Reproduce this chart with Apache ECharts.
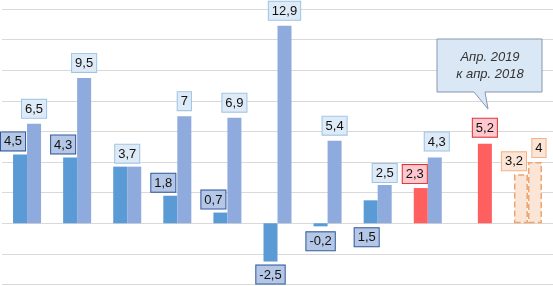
<!DOCTYPE html>
<html>
<head>
<meta charset="utf-8">
<script src="https://cdn.jsdelivr.net/npm/echarts@6/dist/echarts.min.js"></script>
<style>
html,body{margin:0;padding:0;background:#fff;}
#chart{width:553px;height:286px;}
</style>
</head>
<body>
<div id="chart"></div>
<script>
// ---- data ----
const categories = ['1', '2', '3', '4', '5', '6', '7', '8', '9', '10', '11'];
const seriesA = [4.5, 4.3, 3.7, 1.8, 0.7, -2.5, -0.2, 1.5, 2.3, null, 3.2];
const seriesB = [6.5, 9.5, 3.7, 7, 6.9, 12.9, 5.4, 2.5, 4.3, 5.2, 4];
const calloutLines = ['Апр. 2019', 'к апр. 2018'];
const yMin = -4, yMax = 14, yStep = 2;

// ---- styles ----
const FONT = 'Liberation Sans';
const C_DARK = '#5B9BD5', C_LIGHT = '#8FAADC', C_RED = '#FF5F5F';
const C_FC_FILL = '#FBE5D6', C_FC_BORDER = '#F0A46E';
const fmt = v => String(v).replace('.', ',');
function box(bg, border) {
  return {show: true, formatter: p => fmt(p.value), fontFamily: FONT, fontSize: 13, color: '#111',
    backgroundColor: bg, borderColor: border, borderWidth: 1, padding: [2, 3, 1, 3], lineHeight: 15};
}
const darkLbl = () => box('#B4C7E7', '#2F5597');
const lightLbl = () => box('#DEEBF7', '#9DC3E6');
const redLbl = () => box('#FFC7CE', '#E03030');
const fcLbl = () => box('#FBE5D6', '#F4B183');

const dataA = seriesA.map((v, i) => {
  if (v === null) return null;
  let item = {value: v};
  let lbl = Object.assign(darkLbl(), {position: v < 0 ? 'bottom' : 'top', distance: 4, offset: [-7, 0]});
  if (v < 0) lbl.offset = [0, 0];
  if (i === 6) lbl.distance = 6;
  if (i === 2) lbl.show = false;
  if (i === 7) Object.assign(lbl, {position: 'bottom', distance: 5, offset: [-4, 0]});
  if (i === 8) { item.itemStyle = {color: C_RED}; Object.assign(lbl, redLbl(), {offset: [-6, 0], distance: 5}); }
  if (i === 10) {
    item.itemStyle = {color: C_FC_FILL, borderColor: C_FC_BORDER, borderType: 'dashed', borderWidth: 1.5};
    Object.assign(lbl, fcLbl(), {offset: [-7, 0], distance: 4});
  }
  item.label = lbl;
  return item;
});
const dataB = seriesB.map((v, i) => {
  let item = {value: v};
  let lbl = Object.assign(lightLbl(), {position: 'top', distance: 6, offset: [0, 0]});
  if (i === 2) Object.assign(lbl, {offset: [-7, 0], distance: 4});
  if (i === 7) lbl.distance = 3;
  if (i === 8) Object.assign(lbl, {offset: [2, 0], distance: 7});
  if (i === 9) { item.itemStyle = {color: C_RED}; Object.assign(lbl, redLbl(), {distance: 7}); }
  if (i === 10) {
    item.itemStyle = {color: C_FC_FILL, borderColor: C_FC_BORDER, borderType: 'dashed', borderWidth: 1.5};
    Object.assign(lbl, fcLbl(), {offset: [4, 0], distance: 5});
  }
  item.label = lbl;
  return item;
});

const chart = echarts.init(document.getElementById('chart'), null, {renderer: 'canvas'});
chart.setOption({
  animation: false,
  grid: {left: 2, right: -6, top: 9, bottom: 1.5, containLabel: false},
  xAxis: {type: 'category', data: categories, axisLine: {show: false}, axisTick: {show: false},
    axisLabel: {show: false}, splitLine: {show: false}},
  yAxis: {type: 'value', min: yMin, max: yMax, interval: yStep, axisLabel: {show: false},
    axisLine: {show: false}, axisTick: {show: false},
    splitLine: {show: true, lineStyle: {color: '#D9D9D9', width: 1}}},
  series: [
    {type: 'bar', data: dataA, barWidth: 14, barGap: '0%', itemStyle: {color: C_DARK}},
    {type: 'bar', data: dataB, barWidth: 14, barGap: '0%', itemStyle: {color: C_LIGHT}}
  ],
  graphic: [
    {type: 'polygon', z: 100,
      shape: {points: [[437, 39], [542, 39], [542, 92], [485, 92], [488, 109], [474, 92], [437, 92]]},
      style: {fill: '#DAE8F5', stroke: '#8497B0', lineWidth: 1}},
    {type: 'text', z: 101, x: 490, y: 66,
      style: {text: calloutLines.join('\n'), fontFamily: FONT, fontSize: 13, fontStyle: 'italic',
        fill: '#333', align: 'center', verticalAlign: 'middle', lineHeight: 17}}
  ]
});
</script>
</body>
</html>
